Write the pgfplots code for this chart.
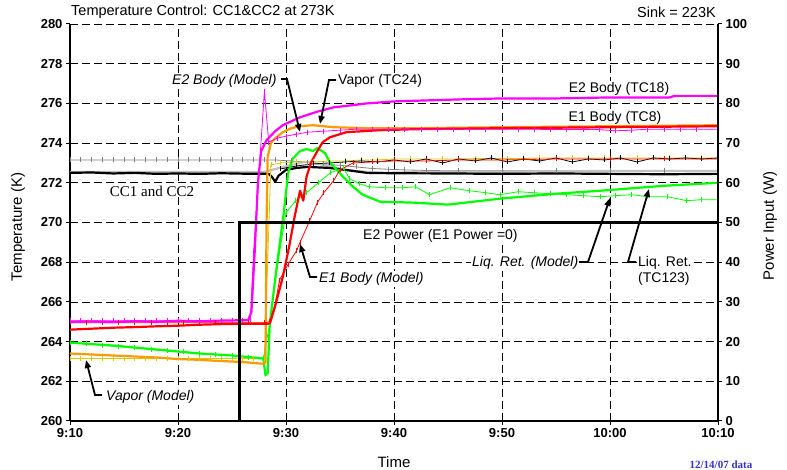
\documentclass[border=0pt]{standalone}
\usepackage{pgfplots}
\pgfplotsset{compat=1.18}
\usepackage{fontspec}
\setmainfont{Liberation Sans}
\newfontfamily\timesfont{Liberation Serif}
\usetikzlibrary{arrows.meta}
\definecolor{mag}{RGB}{255,0,255}
\definecolor{myred}{RGB}{255,0,0}
\definecolor{myorange}{RGB}{255,153,0}
\definecolor{mygreen}{RGB}{0,255,0}
\definecolor{myyellow}{RGB}{215,200,0}
\definecolor{mygray}{RGB}{128,128,128}
\definecolor{lgray}{RGB}{192,192,192}
\definecolor{dateblue}{RGB}{51,51,204}
\tikzset{
  thickline/.style={line width=2.2pt, line join=round},
  modelline/.style={line width=0.8pt, line join=round, mark=|, mark size=2.5pt, mark options={solid, line width=0.6pt}},
  ann/.style={inner sep=1pt, fill=white, font=\fontsize{14}{16}\selectfont},
  annit/.style={inner sep=1pt, fill=white, font=\fontsize{14}{16}\selectfont\itshape},
  arr/.style={line width=1.8pt, -{Triangle[length=8pt,width=6pt]}},
}
\pgfplotsset{
  common/.style={
    scale only axis, width=648pt, height=397pt, at={(0pt,0pt)}, anchor=south west,
    xmin=0, xmax=60,
    tick align=outside, major tick length=4pt,
    tick style={black, line width=1pt},
    axis line style={line width=1.5pt, -},
    ticklabel style={font=\fontsize{13}{13}\selectfont\bfseries},
    /pgf/number format/assume math mode=true,
    clip=false,
  },
}
\begin{document}
\begin{tikzpicture}
\path[use as bounding box] (-70pt,-49pt) rectangle (717pt,421pt);
% ---- axis 1: grid, left axis, time axis
\begin{axis}[
  common, ymin=260, ymax=280,
  axis x line*=bottom, axis y line*=left,
  xtick={0,10,...,60}, xticklabels={9:10,9:20,9:30,9:40,9:50,10:00,10:10},
  ytick={260,262,...,280},
  grid=major, major grid style={black, line width=0.7pt, dash pattern=on 8pt off 4pt},
]
\end{axis}
% ---- text boxes (white background, under the data)
\node[annit, anchor=west] at (101pt,340pt) {E2 Body (Model)};
\node[ann, anchor=west] at (267pt,340pt) {Vapor (TC24)};
\node[ann] at (549pt,332pt) {E2 Body (TC18)};
\node[ann] at (545pt,303pt) {E1 Body (TC8)};
\node[inner sep=1pt, fill=white, font=\timesfont\fontsize{15}{16}\selectfont] at (82pt,230pt) {CC1 and CC2};
\node[ann, anchor=west] at (292pt,185pt) {E2 Power (E1 Power =0)};
\node[annit, anchor=west] at (248pt,142pt) {E1 Body (Model)};
\node[annit, anchor=west] at (401pt,158pt) {Liq. Ret. (Model)};
\node[ann, anchor=west, align=left] at (567pt,150pt) {Liq. Ret.\\(TC123)};
\node[annit, anchor=west] at (35pt,24pt) {Vapor (Model)};
% ---- axis 2: temperature data
\begin{axis}[common, ymin=260, ymax=280, hide axis]
% CC model (gray)
\addplot[mygray, modelline] coordinates {(0,273.15)(1,273.15)(2,273.15)(3,273.15)(4,273.15)(5,273.15)(6,273.15)(7,273.15)(8,273.15)(9,273.15)(10,273.15)(11,273.15)(12,273.15)(13,273.15)(14,273.15)(15,273.15)(16,273.15)(17,273.15)(18,273.15)(19,273.15)(20.5,273.1)(22,273.03)(23.5,272.95)(25,272.88)(26.5,272.8)(28,272.72)(29.5,272.68)(31,272.65)(33,272.62)(36,272.6)(40,272.6)(45,272.6)(50,272.6)(55,272.6)(60,272.6)};
% CC2 measured (light gray)
\addplot[lgray, thickline] coordinates {(0,272.55)(10,272.55)(18,272.55)(19.4,272.75)(20.5,272.9)(21.7,273.05)(23,272.95)(24.4,272.8)(25.3,272.65)(27.5,272.55)(28.7,272.5)(33,272.55)(40,272.55)(50,272.6)(60,272.6)};
% CC1 measured (black)
\addplot[black, thickline] coordinates {(0,272.5)(2,272.52)(4,272.47)(6,272.5)(8,272.45)(10,272.47)(12,272.45)(14,272.48)(16,272.46)(18.4,272.45)(18.7,272.3)(19.0,272.05)(19.3,272.35)(20,272.65)(21,272.75)(22,272.8)(24,272.75)(25.5,272.65)(27.5,272.5)(30,272.48)(35,272.47)(40,272.45)(45,272.47)(50,272.45)(55,272.43)(60,272.45)};
% Vapor model (yellow)
\addplot[myyellow, modelline] coordinates {(0,263.15)(1,263.15)(2,263.15)(3,263.15)(4,263.15)(5,263.15)(6,263.15)(7,263.15)(8,263.15)(9,263.15)(10,263.15)(11,263.15)(12,263.15)(13,263.15)(14,263.15)(15,263.15)(16,263.15)(17,263.15)(18,263.15)(18.3,268.0)(18.6,272.9)(19.5,273.0)(21,273.05)(22.5,273.05)(24,273.1)(25.5,273.1)(27,273.15)(28.5,273.15)(30,273.2)(31.5,273.2)(33,273.2)(34.5,273.2)(36,273.2)(37.5,273.22)(39,273.22)(40.5,273.22)(42,273.22)(43.5,273.25)(45,273.25)(46.5,273.25)(48,273.25)(49.5,273.25)(51,273.25)(52.5,273.25)(54,273.25)(55.5,273.25)(57,273.25)(58.5,273.25)(60,273.25)};
% CC model black
\addplot[black, modelline] coordinates {(19.5,272.7)(21,272.85)(22.5,272.95)(24,273.0)(25.5,273.05)(27,273.1)(28.5,273.05)(30,273.15)(31.5,273.05)(33,273.2)(34.5,273.0)(36,273.2)(37.5,273.1)(39,273.25)(40.5,273.05)(42,273.2)(43.5,273.1)(45,273.25)(46.5,273.05)(48,273.2)(49.5,273.15)(51,273.25)(52.5,273.05)(54,273.25)(55.5,273.2)(57,273.25)(58.5,273.2)(60,273.25)};
% Liq. Ret. model (green thin)
\addplot[mygreen, modelline] coordinates {(0,263.95)(1.5,263.88)(3,263.82)(4.5,263.75)(6,263.68)(7.5,263.6)(9,263.55)(10.5,263.48)(12,263.4)(13.5,263.35)(15,263.3)(16.5,263.22)(17.9,263.15)(18.5,264.9)(19.2,267.8)(20.0,270.5)(20.9,271.1)(21.9,271.5)(23,272.0)(24.1,272.5)(25.3,272.75)(25.9,272.2)(26.8,271.95)(27.7,271.8)(29.2,271.75)(30.8,271.75)(32.0,271.8)(33.3,271.4)(35.2,271.75)(37,271.6)(38.5,271.5)(39.8,271.4)(41.5,271.55)(43,271.5)(44.5,271.45)(46,271.4)(47.5,271.35)(49.1,271.3)(50.5,271.35)(52,271.4)(53.5,271.3)(55.3,271.3)(57.1,271.1)(58.5,271.15)(60,271.15)};
% Liq. Ret. TC123 (green thick)
\addplot[mygreen, thickline] coordinates {(0,263.95)(4,263.8)(8,263.6)(12,263.4)(15,263.3)(17.9,263.15)(18.1,262.3)(18.3,262.4)(18.5,264.9)(19.1,267.6)(19.8,270.5)(20.2,272.5)(20.6,273.2)(21.3,273.6)(21.9,273.7)(22.5,273.6)(22.9,273.75)(23.6,273.5)(24.1,273.0)(25.3,272.3)(26.2,271.8)(27.1,271.4)(28.7,271.05)(31.8,271.0)(35,270.9)(39.8,271.2)(45,271.45)(49.1,271.6)(55,271.85)(60,272.0)};
% Vapor TC24 (orange thick)
\addplot[myorange, thickline] coordinates {(0,263.4)(2,263.35)(4,263.3)(6,263.25)(8,263.2)(10,263.12)(12,263.08)(14,263.02)(16,262.97)(17.9,262.88)(18.1,262.95)(18.2,270.0)(18.3,273.3)(18.6,274.0)(19.0,274.25)(19.7,274.55)(20.5,274.75)(21.3,274.85)(22.5,274.9)(24.4,274.8)(27.5,274.75)(32,274.75)(40,274.8)(50,274.85)(60,274.9)};
% E1 Body model (red thin)
\addplot[myred, modelline] coordinates {(0,264.95)(1.5,264.95)(3,264.95)(4.5,264.95)(6,264.95)(7.5,264.95)(9,264.95)(10.5,264.95)(12,264.95)(13.5,264.95)(15,264.95)(16.5,264.95)(18,264.95)(18.5,265.0)(19.0,265.9)(19.4,267.1)(20.2,267.9)(21.0,268.6)(21.3,269.0)(22.2,270.1)(22.9,271.0)(23.5,271.5)(24.4,272.1)(25.0,272.65)(26.2,273.0)(28,273.05)(30,273.1)(33,273.1)(36,273.15)(40,273.15)(45,273.2)(50,273.2)(55,273.2)(60,273.2)};
% E1 Body TC8 (red thick)
\addplot[myred, thickline] coordinates {(0,264.6)(2,264.65)(4,264.7)(6,264.73)(8,264.77)(10,264.8)(12,264.85)(14,264.88)(16,264.9)(18.5,264.9)(19.0,265.8)(19.7,267.25)(20.3,268.8)(20.8,270.3)(21.3,271.6)(21.6,271.1)(21.9,272.3)(22.3,273.0)(22.8,273.5)(23.4,274.05)(24.1,274.3)(25.6,274.55)(28.7,274.65)(32,274.7)(40,274.75)(50,274.8)(60,274.85)};
% E2 Body model (magenta thin)
\addplot[mag, modelline] coordinates {(0,265.05)(1,265.05)(2,265.05)(3,265.05)(4,265.05)(5,265.05)(6,265.05)(7,265.05)(8,265.05)(9,265.05)(10,265.05)(11,265.05)(12,265.05)(13,265.05)(14,265.05)(15,265.05)(16,265.05)(16.7,265.1)(17.0,268.5)(17.5,272.5)(18.0,276.6)(18.4,274.05)(19.2,274.25)(20,274.35)(21,274.45)(22,274.55)(23.5,274.6)(25,274.65)(26.5,274.7)(28,274.7)(29.5,274.7)(31,274.7)(32.5,274.7)(34,274.7)(35.5,274.7)(37,274.7)(38.5,274.7)(40,274.7)(41.5,274.7)(43,274.7)(44.5,274.68)(46,274.68)(47.5,274.68)(49,274.68)(50.5,274.62)(52,274.65)(53.5,274.7)(55,274.7)(56.5,274.7)(58,274.7)(60,274.7)};
% E2 Body TC18 (magenta thick)
\addplot[mag, thickline] coordinates {(0,265.0)(2,265.02)(4,264.98)(6,265.03)(8,265.0)(10,265.05)(12,265.02)(14,265.06)(16.5,265.08)(16.8,265.5)(17.1,268.5)(17.4,272.0)(17.7,273.6)(18.2,274.15)(19,274.6)(19.7,274.9)(20.5,275.1)(21.3,275.3)(23,275.6)(24.4,275.8)(26,275.9)(27.5,276.0)(30,276.1)(33,276.15)(36,276.2)(40,276.25)(45,276.25)(50,276.3)(55.5,276.3)(56,276.38)(60,276.38)};
\end{axis}
% ---- axis 3: power, right axis
\begin{axis}[
  common, ymin=0, ymax=100,
  axis y line*=right, axis x line=none,
  ytick={0,10,...,100},
]
\addplot[black, line width=2.4pt, line join=miter] coordinates {(0,0)(15.7,0)(15.7,50)(60,50)};
\end{axis}
% titles and axis labels
\node[anchor=west, inner sep=0pt, font=\fontsize{14.5}{16}\selectfont] at (1pt,409pt) {Temperature Control: CC1\&CC2 at 273K};
\node[anchor=east, inner sep=0pt, font=\fontsize{14.5}{16}\selectfont] at (646pt,409pt) {Sink = 223K};
\node[rotate=90, inner sep=0pt, font=\fontsize{15}{16}\selectfont] at (-52pt,194pt) {Temperature (K)};
\node[rotate=90, inner sep=0pt, font=\fontsize{15}{16}\selectfont] at (700pt,195pt) {Power Input (W)};
\node[inner sep=0pt, font=\fontsize{15}{16}\selectfont] at (324pt,-41pt) {Time};
\node[inner sep=0pt, text=dateblue, font=\timesfont\bfseries\fontsize{11}{12}\selectfont] at (651pt,-44pt) {12/14/07 data};
% annotation arrows
\draw[arr] (211pt,342pt) -- (217pt,342pt) -- (230pt,289pt);
\draw[arr] (266pt,341pt) -- (259pt,341pt) -- (250pt,297pt);
\draw[arr] (247pt,144pt) -- (240pt,144pt) -- (230pt,177pt);
\draw[arr] (509pt,159pt) -- (518pt,159pt) -- (540pt,223pt);
\draw[arr] (566pt,159pt) -- (558pt,159pt) -- (579pt,232pt);
\draw[arr] (32pt,26pt) -- (25pt,26pt) -- (16pt,61pt);
\end{tikzpicture}
\end{document}
